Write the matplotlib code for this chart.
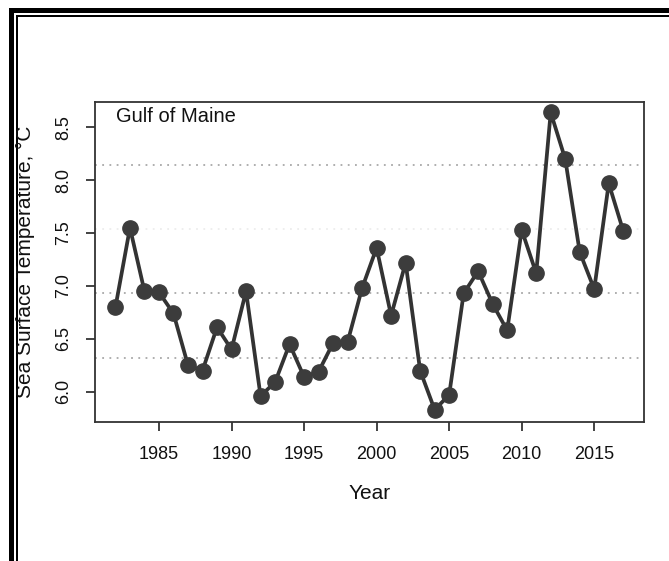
import matplotlib.pyplot as plt
from matplotlib.patches import Rectangle

plt.rcParams["font.family"] = ["Liberation Sans", "DejaVu Sans"]

# Annual sea surface temperature, Gulf of Maine
years = list(range(1982, 2018))
sst = [
    6.80, 7.55, 6.95, 6.94, 6.74, 6.25, 6.20, 6.61, 6.40, 6.95,
    5.96, 6.09, 6.45, 6.14, 6.19, 6.46, 6.47, 6.98, 7.36, 6.72,
    7.22, 6.20, 5.83, 5.97, 6.93, 7.14, 6.83, 6.58, 7.53, 7.12,
    8.64, 8.20, 7.32, 6.97, 7.97, 7.52,
]

# reference levels (dotted lines); the 7.54 one is barely visible
ref_levels = [6.32, 6.93, 8.14]
faint_levels = [7.54]

x_ticks = [1985, 1990, 1995, 2000, 2005, 2010, 2015]
y_ticks = [6.0, 6.5, 7.0, 7.5, 8.0, 8.5]

W, H = 669, 561
fig = plt.figure(figsize=(W / 100, H / 100), dpi=100)
ax = fig.add_axes([95 / W, 1 - 422 / H, 549 / W, 320 / H])

for level in ref_levels:
    ax.axhline(level, color="#a8a8a8", linestyle=(0, (1, 3)), linewidth=1.3, zorder=1)
for level in faint_levels:
    ax.axhline(level, color="#ededed", linestyle=(0, (1, 3)), linewidth=1.3, zorder=1)

ax.plot(
    years, sst,
    color="#333333", linewidth=2.7,
    marker="o", markersize=11,
    markerfacecolor="#3c3c3c", markeredgecolor="#3c3c3c",
    zorder=3,
)

ax.set_xlim(1980.59, 2018.43)
ax.set_ylim(5.714, 8.739)

ax.set_xticks(x_ticks)
ax.set_xticklabels([str(y) for y in x_ticks])
ax.set_yticks(y_ticks)
ax.set_yticklabels([f"{v:.1f}" for v in y_ticks], rotation=90, va="center")

ax.tick_params(axis="both", direction="out", length=6.5, width=1.2,
               color="#222222", labelsize=13, labelcolor="#111111")
ax.tick_params(axis="x", pad=11)
ax.tick_params(axis="y", pad=10)

for spine in ax.spines.values():
    spine.set_color("#333333")
    spine.set_linewidth(1.3)

ax.set_xlabel("Year", fontsize=15, color="#111111")
ax.xaxis.set_label_coords(0.5, -0.222)
ax.xaxis.label.set_va("center")

ax.set_ylabel("Sea Surface Temperature, °C", fontsize=15, color="#111111")
ax.yaxis.set_label_coords(-0.1275, 0.5)
ax.yaxis.label.set_va("center")
ax.yaxis.label.set_ha("center")

ax.text(0.038, 0.956, "Gulf of Maine", transform=ax.transAxes,
        fontsize=14.5, ha="left", va="center", color="#111111")

# double border of the original panel (top and left edges)
fig.add_artist(Rectangle((9 / W, 0), 5 / W, 1 - 8 / H,
                         transform=fig.transFigure, color="black", lw=0, zorder=0))
fig.add_artist(Rectangle((9 / W, 1 - 13 / H), 1 - 9 / W, 5 / H,
                         transform=fig.transFigure, color="black", lw=0, zorder=0))
fig.add_artist(Rectangle((16 / W, 0), 1.6 / W, 1 - 15 / H,
                         transform=fig.transFigure, color="black", lw=0, zorder=0))
fig.add_artist(Rectangle((16 / W, 1 - 16.6 / H), 1 - 16 / W, 1.6 / H,
                         transform=fig.transFigure, color="black", lw=0, zorder=0))

fig.savefig("out.png", dpi=100)
